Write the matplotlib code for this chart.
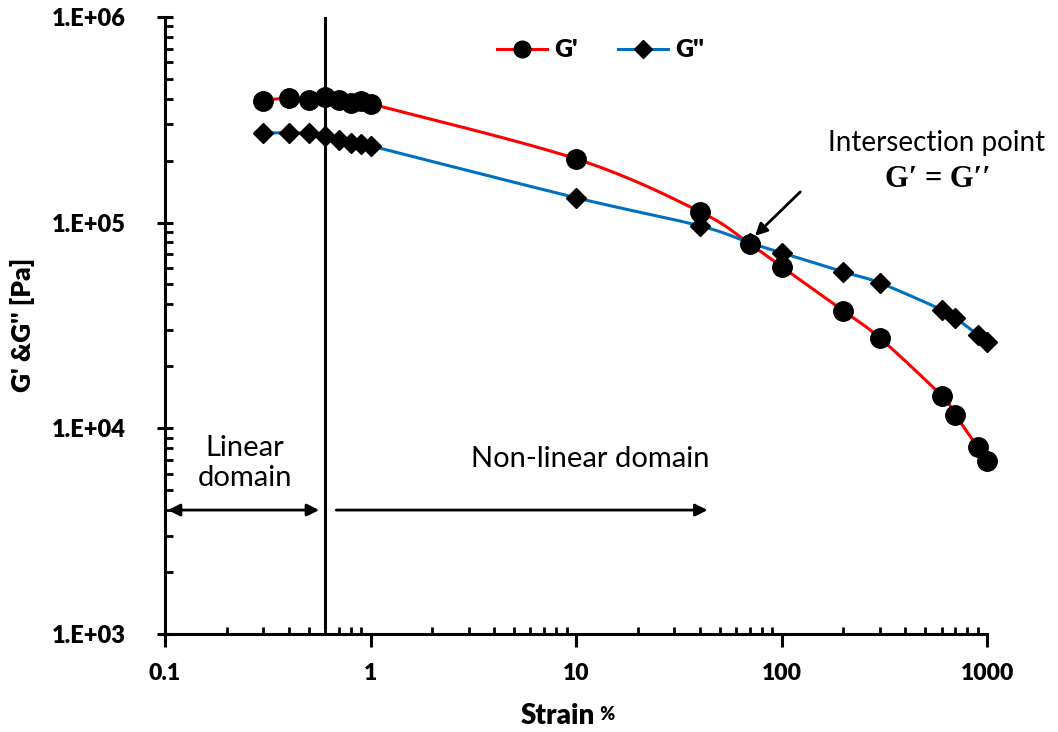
import numpy as np
import matplotlib.pyplot as plt
from matplotlib.lines import Line2D

strain = [0.3, 0.4, 0.5, 0.6, 0.7, 0.8, 0.9, 1.0, 10, 40, 70, 100, 200, 300, 600, 700, 900, 1000]
g_storage = [3.91e5, 4.04e5, 3.94e5, 4.08e5, 3.94e5, 3.82e5, 3.91e5, 3.78e5,
             2.04e5, 1.13e5, 7.87e4, 6.1e4, 3.72e4, 2.75e4, 1.44e4, 1.16e4, 8.1e3, 6.9e3]
g_loss = [2.73e5, 2.73e5, 2.71e5, 2.64e5, 2.52e5, 2.44e5, 2.41e5, 2.36e5,
          1.32e5, 9.64e4, 7.96e4, 7.13e4, 5.75e4, 5.09e4, 3.77e4, 3.44e4, 2.85e4, 2.63e4]

x_ticks = [0.1, 1, 10, 100, 1000]
x_labels = ['0.1', '1', '10', '100', '1000']
y_ticks = [1e3, 1e4, 1e5, 1e6]
y_labels = ['1.E+03', '1.E+04', '1.E+05', '1.E+06']

linear_limit = 0.6

plt.rcParams['font.family'] = ['Lato', 'DejaVu Sans']


def smooth_line(x, y, n=30):
    # Excel-like smoothed line, done in log-log space
    lx = np.log10(x)
    ly = np.log10(y)
    px, py = [], []
    for i in range(len(lx) - 1):
        i0 = max(i - 1, 0)
        i3 = min(i + 2, len(lx) - 1)
        p0 = np.array([lx[i0], ly[i0]])
        p1 = np.array([lx[i], ly[i]])
        p2 = np.array([lx[i + 1], ly[i + 1]])
        p3 = np.array([lx[i3], ly[i3]])
        c1 = p1 + (p2 - p0) / 6
        c2 = p2 - (p3 - p1) / 6
        t = np.linspace(0, 1, n)[:, None]
        seg = ((1 - t) ** 3 * p1 + 3 * (1 - t) ** 2 * t * c1
               + 3 * (1 - t) * t ** 2 * c2 + t ** 3 * p2)
        px.extend(seg[:, 0])
        py.extend(seg[:, 1])
    return 10 ** np.array(px), 10 ** np.array(py)


fig = plt.figure(figsize=(10.58, 7.32), dpi=100)
ax = fig.add_axes([0.156, 0.134, 0.777, 0.843])

sx, sy = smooth_line(strain, g_storage)
ax.plot(sx, sy, color='#ff0000', lw=2.2, zorder=2, clip_on=False)
ax.plot(strain, g_storage, 'o', color='black', ms=14, zorder=3, clip_on=False)

lx, ly = smooth_line(strain, g_loss)
ax.plot(lx, ly, color='#0070c0', lw=2.2, zorder=2, clip_on=False)
ax.plot(strain, g_loss, 'D', color='black', ms=10, zorder=3, clip_on=False)

ax.set_xscale('log')
ax.set_yscale('log')
ax.set_xlim(0.1, 1000)
ax.set_ylim(1e3, 1e6)

ax.tick_params(axis='x', which='major', direction='out', length=9, width=2.2, pad=12)
ax.tick_params(axis='x', which='minor', direction='in', length=5, width=2, labelbottom=False)
ax.tick_params(axis='y', which='major', direction='inout', length=12, width=2.2, pad=22)
ax.tick_params(axis='y', which='minor', direction='in', length=6, width=2, labelleft=False)

ax.set_xticks(x_ticks)
ax.set_xticklabels(x_labels, fontsize=16.5, fontweight='heavy')
ax.set_yticks(y_ticks)
ax.set_yticklabels(y_labels, fontsize=17, fontweight='heavy')

for side in ['top', 'right']:
    ax.spines[side].set_visible(False)
for side in ['left', 'bottom']:
    ax.spines[side].set_linewidth(2.2)

ax.set_ylabel("G' &G'' [Pa]", fontsize=19, fontweight='heavy', labelpad=12)
ax.text(0.523, -0.133, 'Strain', transform=ax.transAxes, ha='right', va='center',
        fontsize=20, fontweight='heavy')
ax.text(0.524, -0.131, ' %', transform=ax.transAxes, ha='left', va='center',
        fontsize=13, fontweight='heavy')

# domain separation
ax.axvline(linear_limit, ymin=0.012, ymax=1.0, color='black', lw=2.2, zorder=1)
ax.annotate('', xy=(0.1, 4e3), xytext=(0.58, 4e3),
            arrowprops=dict(arrowstyle='<|-|>', color='black', lw=2, mutation_scale=18))
ax.annotate('', xy=(45, 4e3), xytext=(0.66, 4e3),
            arrowprops=dict(arrowstyle='-|>', color='black', lw=2, mutation_scale=18))
ax.text(0.097, 0.277, 'Linear\ndomain', transform=ax.transAxes, ha='center', va='center',
        fontsize=21, linespacing=1.2)
ax.text(0.517, 0.283, 'Non-linear domain', transform=ax.transAxes, ha='center', va='center',
        fontsize=21)

# intersection
ax.annotate('', xy=(72.6, 8.43e4), xytext=(126, 1.44e5),
            arrowprops=dict(arrowstyle='-|>', color='black', lw=2, mutation_scale=18))
ax.text(0.939, 0.796, 'Intersection point', transform=ax.transAxes, ha='center', va='center',
        fontsize=20)
ax.text(0.94, 0.736, 'G\u2032 = G\u2032\u2032', transform=ax.transAxes, ha='center',
        va='center', fontsize=22, fontweight='bold',
        family=['Liberation Serif', 'DejaVu Serif'])

handles = [Line2D([], [], color='#ff0000', lw=2.2, marker='o', ms=12, mfc='black', mec='black'),
           Line2D([], [], color='#0070c0', lw=2.2, marker='D', ms=9, mfc='black', mec='black')]
leg = ax.legend(handles, ["G'", "G''"], loc='upper center', bbox_to_anchor=(0.53, 1.0), ncol=2,
                frameon=False, handlelength=2.0, columnspacing=1.6, handletextpad=0.3,
                prop={'weight': 'heavy', 'size': 18})

fig.savefig('out.png', dpi=100)
